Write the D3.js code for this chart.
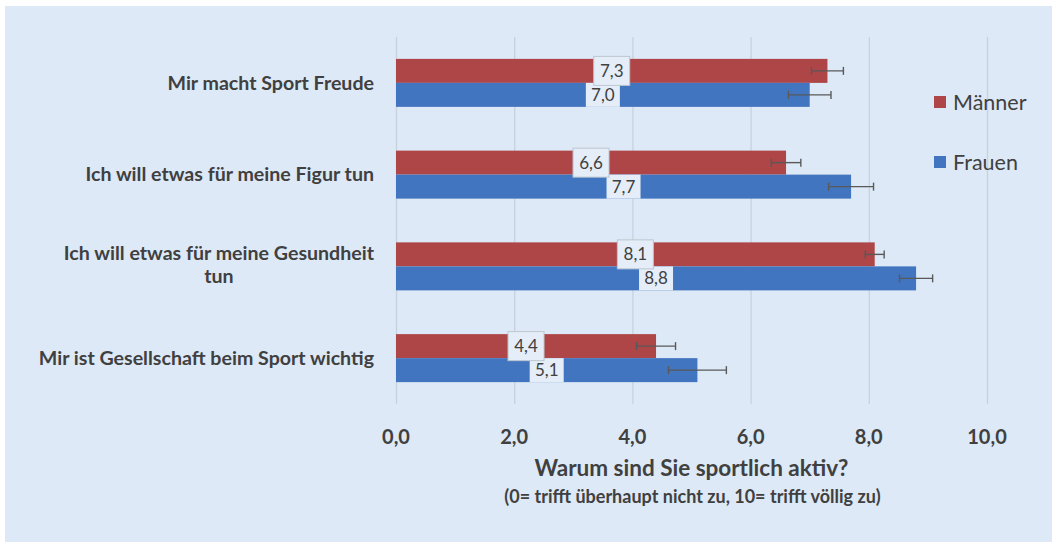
<!DOCTYPE html>
<html>
<head>
<meta charset="utf-8">
<script src="https://cdn.jsdelivr.net/npm/d3@7"></script>
<style>
  body { margin: 0; background: #fff; }
  text { font-family: Lato, "Open Sans", sans-serif; fill: #404040; }
</style>
</head>
<body>
<div id="chart"></div>
<script>
// chart data
const categories = [
  ['Mir macht Sport Freude'],
  ['Ich will etwas für meine Figur tun'],
  ['Ich will etwas für meine Gesundheit', 'tun'],
  ['Mir ist Gesellschaft beim Sport wichtig']
];
const series = ['Männer', 'Frauen'];
const maenner = [7.3, 6.6, 8.1, 4.4];
const frauen = [7.0, 7.7, 8.8, 5.1];
const maennerErr = [0.27, 0.25, 0.16, 0.33];
const frauenErr = [0.36, 0.38, 0.28, 0.49];
const xTicks = [0, 2, 4, 6, 8, 10];
const xTitle = 'Warum sind Sie sportlich aktiv?';
const xSubtitle = '(0= trifft überhaupt nicht zu, 10= trifft völlig zu)';

const width = 1052;
const height = 542;
const colors = { 'Männer': '#ae4547', 'Frauen': '#4275c0' };
const bg = '#dde9f6';

const svg = d3.select('#chart').append('svg')
  .attr('width', width)
  .attr('height', height);

// light blue panel
svg.append('rect')
  .attr('x', 5).attr('y', 6)
  .attr('width', width - 5).attr('height', height - 6)
  .attr('fill', bg);

const plot = { left: 396, right: 987, top: 37, bottom: 404 };

const xScale = d3.scaleLinear()
  .domain([0, 10])
  .range([plot.left, plot.right]);

const yScale = d3.scaleBand()
  .domain(d3.range(categories.length))
  .range([plot.top, plot.bottom]);

const barH = 24;

// gridlines
svg.append('g')
  .attr('class', 'gridlines')
  .attr('transform', `translate(0, ${plot.bottom})`)
  .call(d3.axisBottom(xScale).tickValues(xTicks).tickFormat('').tickSize(-(plot.bottom - plot.top)))
  .call((g) => g.select('.domain').remove())
  .call((g) => g.selectAll('line').attr('stroke', '#c7d2dd').attr('stroke-width', 1.3));

// tick labels
svg.append('g')
  .selectAll('text')
  .data(xTicks)
  .join('text')
  .attr('x', (d) => xScale(d))
  .attr('y', 437)
  .attr('dy', '0.35em')
  .attr('text-anchor', 'middle')
  .style('font-size', '20px')
  .style('font-weight', 'bold')
  .text((d) => d3.format('.1f')(d).replace('.', ','));

// axis titles
svg.append('text')
  .attr('x', (plot.left + plot.right) / 2)
  .attr('y', 468)
  .attr('dy', '0.35em')
  .attr('text-anchor', 'middle')
  .style('font-size', '22.5px')
  .style('font-weight', 'bold')
  .text(xTitle);

svg.append('text')
  .attr('x', (plot.left + plot.right) / 2 + 1)
  .attr('y', 497)
  .attr('dy', '0.35em')
  .attr('text-anchor', 'middle')
  .style('font-size', '18px')
  .style('font-weight', 'bold')
  .text(xSubtitle);

// category labels (wrapped lines centred on each other, block right-aligned)
const labelRight = 374;
categories.forEach((lines, i) => {
  const cy = yScale(i) + yScale.bandwidth() / 2;
  const lineH = 23;
  const shift = lines.length > 1 ? -2 : 0;
  const g = svg.append('g');
  const texts = lines.map((line, j) => g.append('text')
    .attr('y', cy + (j - (lines.length - 1) / 2) * lineH + shift)
    .attr('dy', '0.35em')
    .attr('text-anchor', 'middle')
    .style('font-size', '19.6px')
    .style('font-weight', 'bold')
    .text(line));
  const widths = texts.map((t) => t.node().getComputedTextLength());
  const maxW = d3.max(widths);
  texts.forEach((t) => t.attr('x', labelRight - maxW / 2));
});

const rows = categories.map((c, i) => ({ i, values: [maenner[i], frauen[i]], errs: [maennerErr[i], frauenErr[i]] }));

// bars
const groups = svg.append('g').selectAll('g')
  .data(rows)
  .join('g');

series.forEach((s, k) => {
  const barY = (d) => yScale(d.i) + yScale.bandwidth() / 2 - barH + k * barH;

  groups.append('rect')
    .attr('x', xScale(0))
    .attr('y', barY)
    .attr('width', (d) => xScale(d.values[k]) - xScale(0))
    .attr('height', barH)
    .attr('fill', colors[s]);

  // error bars
  const eb = groups.append('g')
    .attr('stroke', '#595959')
    .attr('stroke-width', 1.4);
  eb.append('line')
    .attr('x1', (d) => xScale(d.values[k] - d.errs[k]))
    .attr('x2', (d) => xScale(d.values[k] + d.errs[k]))
    .attr('y1', (d) => barY(d) + barH / 2)
    .attr('y2', (d) => barY(d) + barH / 2);
  [-1, 1].forEach((sign) => {
    eb.append('line')
      .attr('x1', (d) => xScale(d.values[k] + sign * d.errs[k]))
      .attr('x2', (d) => xScale(d.values[k] + sign * d.errs[k]))
      .attr('y1', (d) => barY(d) + barH / 2 - 4)
      .attr('y2', (d) => barY(d) + barH / 2 + 4);
  });
});

// data labels in the middle of each bar (Frauen first so the Männer box sits on top)
[1, 0].forEach((k) => {
  const barY = (d) => yScale(d.i) + yScale.bandwidth() / 2 - barH + k * barH;
  const lg = groups.append('g');
  const cx = (d) => xScale(d.values[k] / 2);
  if (k === 0) {
    lg.append('rect')
      .attr('x', (d) => cx(d) - 18)
      .attr('y', (d) => barY(d) + barH / 2 - 14.5)
      .attr('width', 36)
      .attr('height', 29)
      .attr('fill', '#e4edf8')
      .attr('stroke', '#bcc6d0')
      .attr('stroke-width', 1);
  } else {
    lg.append('rect')
      .attr('x', (d) => cx(d) - 17)
      .attr('y', (d) => barY(d))
      .attr('width', 34)
      .attr('height', barH)
      .attr('fill', '#e4edf8');
  }
  lg.append('text')
    .attr('x', cx)
    .attr('y', (d) => barY(d) + barH / 2)
    .attr('dy', '0.35em')
    .attr('text-anchor', 'middle')
    .style('font-size', '17px')
    .text((d) => d3.format('.1f')(d.values[k]).replace('.', ','));
});

// legend
const legend = svg.append('g')
  .selectAll('g')
  .data(series)
  .join('g')
  .attr('transform', (d, i) => `translate(934, ${102 + i * 60})`);

legend.append('rect')
  .attr('x', 0).attr('y', -6)
  .attr('width', 12).attr('height', 12)
  .attr('fill', (d) => colors[d]);

legend.append('text')
  .attr('x', 19)
  .attr('dy', '0.35em')
  .style('font-size', '21.5px')
  .text((d) => d);
</script>
</body>
</html>
